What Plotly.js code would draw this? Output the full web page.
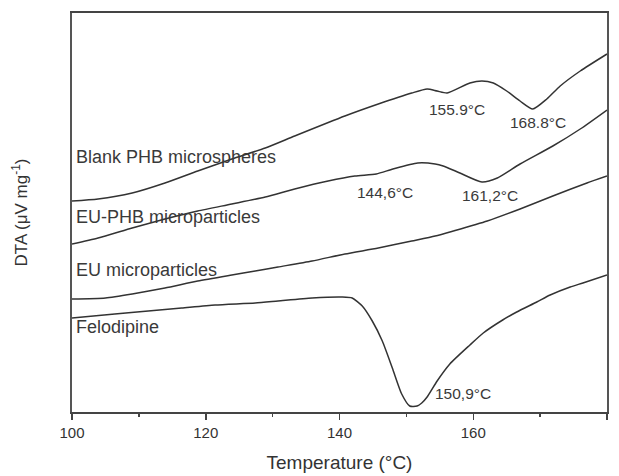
<!DOCTYPE html>
<html>
<head>
<meta charset="utf-8">
<script src="https://cdn.plot.ly/plotly-3.0.1.min.js"></script>
<style>html,body{margin:0;padding:0;background:#fff;}#chart{width:619px;height:476px;}</style>
</head>
<body>
<div id="chart"></div>
<script>
// Temperature (°C) and DTA (arbitrary offset units)
const blankT = [100.0,103.9,109.0,113.9,118.8,123.9,128.9,133.3,140.8,145.8,150.8,153.1,154.6,156.1,159.5,161.3,163.0,165.0,167.0,168.9,171.0,173.0,176.0,180.0];
const blankY = [211,213,219,229,241,253,264,276,296,308,319,323,321,319,329,331,329,321,311,303,313,326,341,358];

const euphbT = [100.0,103.9,109.0,113.9,118.8,123.9,128.9,133.3,138.3,142.3,145.5,148.0,151.7,154.3,155.5,158.0,161.3,163.6,167.0,171.9,176.0,180.0];
const euphbY = [168,174,184,193,201,208,215,223,231,236,238,243,249,248,246,239,230,234,248,266,283,302];

const euT = [100.0,105.0,109.0,113.9,118.8,123.9,127.4,130.8,135.9,140.8,145.8,150.8,154.3,157.0,162.1,167.0,171.9,177.0,180.0];
const euY = [113,114,118,124,131,137,141,145,151,158,164,171,176,181,191,203,216,229,236];

const feloT = [100.0,106.4,111.4,116.4,121.4,127.4,130.8,135.9,140.4,141.9,143.4,144.9,146.4,147.9,149.3,150.5,151.6,152.3,153.1,154.6,156.5,159.5,161.5,164.4,166.5,169.5,171.5,174.5,176.4,180.0];
const feloY = [94,98,101,104,107,109,111,114,115,114,106,91,71,44,18,6,6,9,15,31,48,67,79,92,100,110,117,125,129,137];

const seriesNames = ["Blank PHB microspheres","EU-PHB microparticles","EU microparticles","Felodipine"];
const seriesLabelT = [100.3,100.3,100.3,100.3];
const seriesLabelY = [255,195,142,85];

const peakText = ["155.9°C","168.8°C","144,6°C","161,2°C","150,9°C"];
const peakT = [153.1,165.2,142.3,158.0,154.0];
const peakY = [303,290,220,217,19];

const xTicks = [100,120,140,160,180];

const lineStyle = {color:'#333', width:1.5, shape:'spline', smoothing:0.6};
const data = [
  {x:blankT, y:blankY},
  {x:euphbT, y:euphbY},
  {x:euT, y:euY},
  {x:feloT, y:feloY}
].map((d,i)=>({x:d.x, y:d.y, type:'scatter', mode:'lines', name:seriesNames[i], line:lineStyle, hoverinfo:'skip'}));

const font = 'Liberation Sans, Arial, sans-serif';
const annotations = [];
seriesNames.forEach((t,i)=>annotations.push({x:seriesLabelT[i], y:seriesLabelY[i], xref:'x', yref:'y', text:t, showarrow:false, xanchor:'left', yanchor:'middle', font:{family:font, size:18, color:'#3a3a3a'}}));
peakText.forEach((t,i)=>annotations.push({x:peakT[i], y:peakY[i], xref:'x', yref:'y', text:t, showarrow:false, xanchor:'left', yanchor:'middle', font:{family:font, size:15.5, color:'#3a3a3a'}}));

const layout = {
  width:619, height:476,
  margin:{l:72, r:12, t:13, b:64},
  paper_bgcolor:'#fff', plot_bgcolor:'#fff',
  showlegend:false,
  font:{family:font, color:'#333'},
  xaxis:{
    range:[100,180], tickvals:xTicks, ticktext:xTicks.map(String),
    ticks:'outside', ticklen:6, tickwidth:1.5, tickcolor:'#444',
    minor:{dtick:10, ticks:'outside', ticklen:3, tickwidth:1.5, tickcolor:'#444'},
    showgrid:false, zeroline:false,
    showline:true, linecolor:'#444', linewidth:2, mirror:true,
    tickfont:{family:font, size:15, color:'#333'},
    title:{text:'Temperature (°C)', font:{family:font, size:19, color:'#333'}, standoff:16}
  },
  yaxis:{
    range:[0,399], showticklabels:false, ticks:'',
    showgrid:false, zeroline:false,
    showline:true, linecolor:'#555', linewidth:2, mirror:true,
    title:{text:'DTA (μV mg<sup>-1</sup>)', font:{family:font, size:17, color:'#333'}, standoff:38}
  },
  annotations:annotations
};
Plotly.newPlot('chart', data, layout, {staticPlot:true, displayModeBar:false});
</script>
</body>
</html>
